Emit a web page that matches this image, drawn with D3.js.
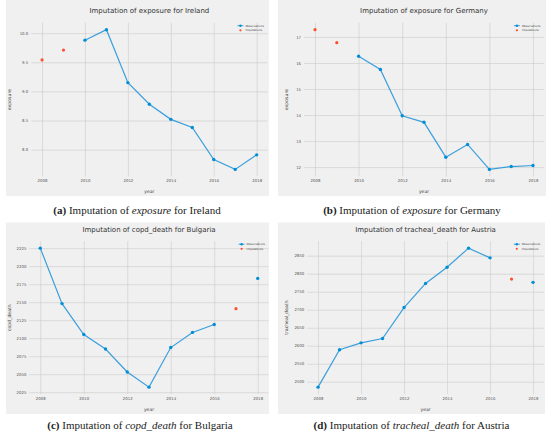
<!DOCTYPE html>
<html>
<head>
<meta charset="utf-8">
<script src="https://cdn.jsdelivr.net/npm/d3@7"></script>
<style>
  body { margin: 0; background: #fff; }
  svg { display: block; }
</style>
</head>
<body>
<svg id="fig" width="550" height="436"></svg>
<script>
// years on the x axis
var years = [2008, 2009, 2010, 2011, 2012, 2013, 2014, 2015, 2016, 2017, 2018];
var yearTicks = [2008, 2010, 2012, 2014, 2016, 2018];

// (a) Ireland, exposure
var irelandObs = [null, null, 9.88, 10.06, 9.15, 8.78, 8.52, 8.38, 7.83, 7.66, 7.91];
var irelandImp = [9.54, 9.71, null, null, null, null, null, null, null, null, null];
var irelandTicks = [8.0, 8.5, 9.0, 9.5, 10.0];

// (b) Germany, exposure
var germanyObs = [null, null, 16.26, 15.75, 13.97, 13.72, 12.38, 12.87, 11.91, 12.02, 12.06];
var germanyImp = [17.28, 16.78, null, null, null, null, null, null, null, null, null];
var germanyTicks = [12, 13, 14, 15, 16, 17];

// (c) Bulgaria, copd_death
var bulgariaObs = [2225, 2148, 2105, 2085, 2053, 2032, 2087, 2108, 2119, null, 2183];
var bulgariaImp = [null, null, null, null, null, null, null, null, null, 2141, null];
var bulgariaTicks = [2025, 2050, 2075, 2100, 2125, 2150, 2175, 2200, 2225];

// (d) Austria, tracheal_death
var austriaObs = [2485, 2589, 2608, 2620, 2706, 2773, 2818, 2871, 2844, null, 2776];
var austriaImp = [null, null, null, null, null, null, null, null, null, 2785, null];
var austriaTicks = [2500, 2550, 2600, 2650, 2700, 2750, 2800, 2850];

var BG = "#f0f0f0", GRID = "#cbcbcb", BLUE = "#008fd5", RED = "#fc4f30";

var panels = [
  {title: "Imputation of exposure for Ireland", ylab: "exposure", obs: irelandObs, imp: irelandImp,
   ticks: irelandTicks, fmt: d3.format(".1f"),
   cap: ["(a)", " Imputation of ", "exposure", " for Ireland"],
   bg: [6, 0, 263, 196], ax: [31.3, 267.4, 22.7, 176.4], ylx: 9.3, capx: 137, capy: 214},
  {title: "Imputation of exposure for Germany", ylab: "exposure", obs: germanyObs, imp: germanyImp,
   ticks: germanyTicks, fmt: d3.format("d"),
   cap: ["(b)", " Imputation of ", "exposure", " for Germany"],
   bg: [278, 0, 268, 196], ax: [304.1, 543.9, 22.7, 176.4], ylx: 286, capx: 412, capy: 214},
  {title: "Imputation of copd_death for Bulgaria", ylab: "copd_death", obs: bulgariaObs, imp: bulgariaImp,
   ticks: bulgariaTicks, fmt: d3.format("d"),
   cap: ["(c)", " Imputation of ", "copd_death", " for Bulgaria"],
   bg: [6, 222.5, 263, 191.5], ax: [29.4, 268.6, 241.2, 394.1], ylx: 9.3, capx: 140, capy: 429},
  {title: "Imputation of tracheal_death for Austria", ylab: "tracheal_death", obs: austriaObs, imp: austriaImp,
   ticks: austriaTicks, fmt: d3.format("d"),
   cap: ["(d)", " Imputation of ", "tracheal_death", " for Austria"],
   bg: [278, 222.5, 267, 191.5], ax: [307.3, 543.8, 241.2, 394.1], ylx: 286.7, capx: 411.5, capy: 429}
];

var svg = d3.select("#fig");

panels.forEach(function(p) {
  var g = svg.append("g");
  var L = p.ax[0], R = p.ax[1], T = p.ax[2], B = p.ax[3];

  g.append("rect")
      .attr("x", p.bg[0]).attr("y", p.bg[1])
      .attr("width", p.bg[2]).attr("height", p.bg[3])
      .attr("fill", BG);

  // matplotlib-like autoscale: 5% margins
  var all = p.obs.concat(p.imp).filter(function(v) { return v != null; });
  var ext = d3.extent(all), pad = (ext[1] - ext[0]) * 0.05;

  var x = d3.scaleLinear().domain([years[0] - 0.5, years[years.length - 1] + 0.5]).range([L, R]);
  var y = d3.scaleLinear().domain([ext[0] - pad, ext[1] + pad]).range([B, T]);

  // grid + tick labels via axes
  var xAxis = d3.axisBottom(x).tickValues(yearTicks).tickFormat(d3.format("d"))
      .tickSize(-(B - T)).tickPadding(3);
  var yAxis = d3.axisLeft(y).tickValues(p.ticks).tickFormat(p.fmt)
      .tickSize(-(R - L)).tickPadding(3);

  var gx = g.append("g").attr("transform", "translate(0," + B + ")").call(xAxis);
  var gy = g.append("g").attr("transform", "translate(" + L + ",0)").call(yAxis);
  [gx, gy].forEach(function(a) {
    a.select(".domain").remove();
    a.selectAll(".tick line").attr("stroke", GRID).attr("stroke-width", 0.6);
    a.selectAll(".tick text").attr("fill", "#555").attr("font-size", 3.9)
        .attr("font-family", "DejaVu Sans");
  });

  g.append("text")
      .attr("x", (L + R) / 2).attr("y", p.bg[1] + (p.bg[1] === 0 ? 13.3 : 9))
      .attr("text-anchor", "middle")
      .attr("font-family", "DejaVu Sans").attr("font-size", 7).attr("fill", "#333")
      .text(p.title);

  g.append("text")
      .attr("x", (L + R) / 2).attr("y", B + 16.5)
      .attr("text-anchor", "middle")
      .attr("font-family", "DejaVu Sans").attr("font-size", 4.6).attr("fill", "#444")
      .text("year");

  g.append("text")
      .attr("transform", "translate(" + (p.ylx + 1.5) + "," + ((T + B) / 2) + ") rotate(-90)")
      .attr("text-anchor", "middle")
      .attr("font-family", "DejaVu Sans").attr("font-size", 4.6).attr("fill", "#444")
      .text(p.ylab);

  var obs = years.map(function(yr, i) { return {yr: yr, v: p.obs[i]}; });
  var imp = years.map(function(yr, i) { return {yr: yr, v: p.imp[i]}; })
      .filter(function(d) { return d.v != null; });

  var line = d3.line()
      .defined(function(d) { return d.v != null; })
      .x(function(d) { return x(d.yr); })
      .y(function(d) { return y(d.v); });

  g.append("path").datum(obs)
      .attr("d", line)
      .attr("fill", "none").attr("stroke", "#3a9fdc").attr("stroke-width", 1.2);

  g.selectAll(".obs").data(obs.filter(function(d) { return d.v != null; }))
    .enter().append("circle")
      .attr("cx", function(d) { return x(d.yr); })
      .attr("cy", function(d) { return y(d.v); })
      .attr("r", 1.7).attr("fill", BLUE);

  g.selectAll(".imp").data(imp)
    .enter().append("circle")
      .attr("cx", function(d) { return x(d.yr); })
      .attr("cy", function(d) { return y(d.v); })
      .attr("r", 1.6).attr("fill", RED);

  // legend
  var lx = R - 27, ly = T + 3;
  g.append("line").attr("x1", lx - 3).attr("x2", lx + 3).attr("y1", ly).attr("y2", ly)
      .attr("stroke", "#3a9fdc").attr("stroke-width", 1);
  g.append("circle").attr("cx", lx).attr("cy", ly).attr("r", 1.2).attr("fill", BLUE);
  g.append("circle").attr("cx", lx).attr("cy", ly + 4.6).attr("r", 1.1).attr("fill", RED);
  g.append("text").attr("x", lx + 5).attr("y", ly + 1)
      .attr("font-family", "DejaVu Sans").attr("font-size", 2.8).attr("fill", "#444")
      .text("Observations");
  g.append("text").attr("x", lx + 5).attr("y", ly + 5.6)
      .attr("font-family", "DejaVu Sans").attr("font-size", 2.8).attr("fill", "#444")
      .text("Imputations");

  // caption below the panel
  var cap = svg.append("text")
      .attr("x", p.capx).attr("y", p.capy)
      .attr("text-anchor", "middle")
      .attr("font-family", "Liberation Serif").attr("font-size", 11).attr("fill", "#222");
  cap.append("tspan").attr("font-weight", "bold").text(p.cap[0]);
  cap.append("tspan").text(p.cap[1]);
  cap.append("tspan").attr("font-style", "italic").text(p.cap[2]);
  cap.append("tspan").text(p.cap[3]);
});
</script>
</body>
</html>
